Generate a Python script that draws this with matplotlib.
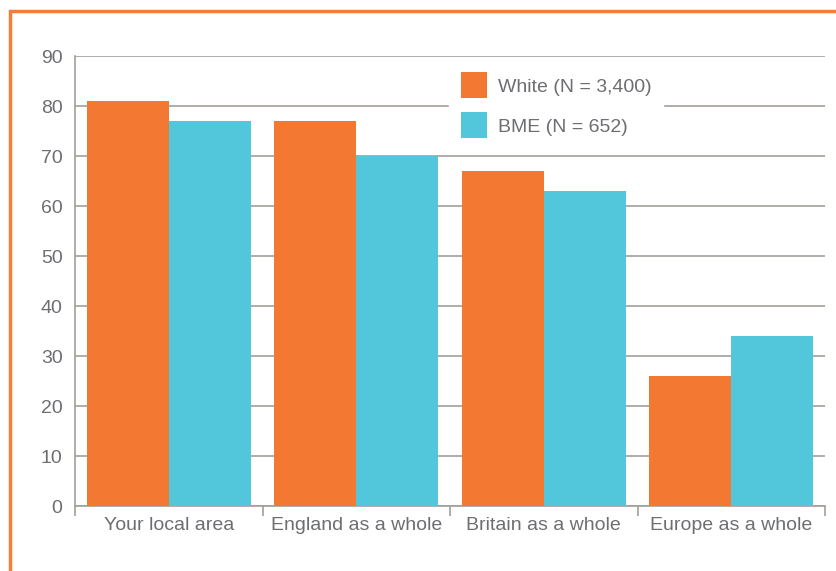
import numpy as np
import matplotlib.pyplot as plt
from matplotlib.patches import Rectangle

categories = ['Your local area', 'England as a whole', 'Britain as a whole', 'Europe as a whole']
white = [81, 77, 67, 26]
bme = [77, 70, 63, 34]
series_labels = ['White (N = 3,400)', 'BME (N = 652)']

ORANGE = '#f37832'
BLUE = '#52c6db'
GRID = '#a39e99'
TEXT = '#6d6e71'

plt.rcParams['font.family'] = ['Liberation Sans', 'DejaVu Sans']

fig = plt.figure(figsize=(8.37, 5.71), dpi=100)
ax = fig.add_axes([0.0896, 0.1138, 0.8961, 0.7881])

# outer orange frame
fig.patches.append(Rectangle((0.0125, -0.05), 1.1, 1.03, transform=fig.transFigure,
                             fill=False, edgecolor='#f47d3a', linewidth=2.5, zorder=0))

x = np.arange(len(categories))
w = 0.437
ax.bar(x - w / 2, white, w, color=ORANGE, label=series_labels[0], zorder=3)
ax.bar(x + w / 2, bme, w, color=BLUE, label=series_labels[1], zorder=3)

ax.set_xlim(-0.5, len(categories) - 0.5)
ax.set_ylim(0, 90)
ax.set_yticks(range(0, 91, 10))
ax.yaxis.grid(True, color=GRID, linewidth=1.2, zorder=0)
ax.set_axisbelow(True)

# boundary ticks between groups, labels centred under each group
ax.set_xticks(np.arange(-0.5, len(categories), 1.0))
ax.set_xticklabels([])
ax.set_xticks(x, minor=True)
ax.set_xticklabels(categories, minor=True)
ax.tick_params(axis='x', which='major', direction='out', length=7.5, width=1.2, color=GRID)
ax.tick_params(axis='x', which='minor', length=0, pad=8, labelsize=14, labelcolor=TEXT)
ax.tick_params(axis='y', length=0, pad=9, labelsize=14, labelcolor=TEXT)

for side in ['top', 'right']:
    ax.spines[side].set_visible(False)
for side in ['left', 'bottom']:
    ax.spines[side].set_color(GRID)
    ax.spines[side].set_linewidth(1.2)

leg = ax.legend(loc='upper left', bbox_to_anchor=(0.499, 0.99), frameon=True, fancybox=False,
                edgecolor='white', framealpha=1, fontsize=14, labelcolor=TEXT,
                handlelength=1.35, handleheight=1.68, handletextpad=0.55, labelspacing=0.72,
                borderpad=0.6, borderaxespad=0)
leg.set_zorder(5)

fig.savefig('out.png', dpi=100)
